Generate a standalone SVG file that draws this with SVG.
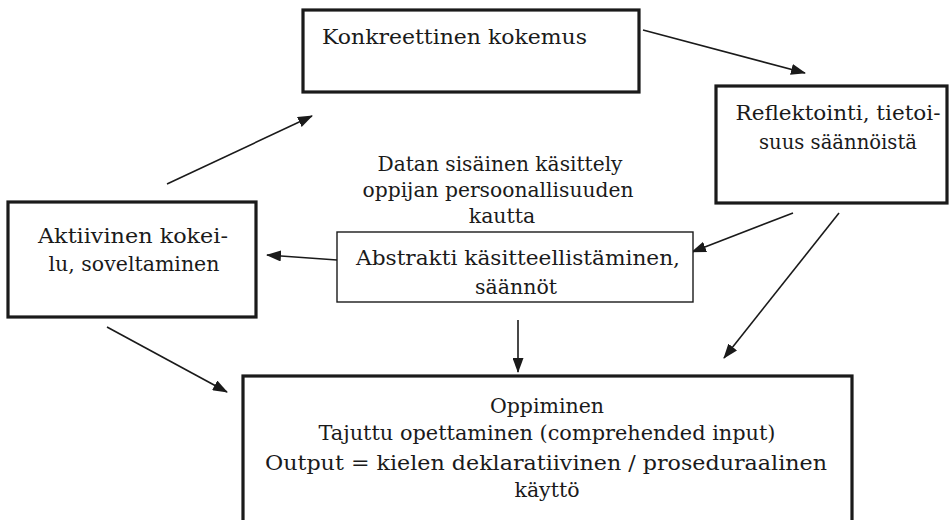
<svg xmlns="http://www.w3.org/2000/svg" width="949" height="520" viewBox="0 0 949 520">
<style>
  .box { fill: #ffffff; stroke: #1a1a1a; stroke-width: 3.2; }
  .thin { fill: #ffffff; stroke: #1a1a1a; stroke-width: 1.4; }
  .t { font-family: "DejaVu Serif", "Liberation Serif", serif; font-size: 20.5px; fill: #1a1a1a; }
  .c { text-anchor: middle; }
  .edge { stroke: #1a1a1a; stroke-width: 1.6; fill: none; marker-end: url(#ah); }
</style>
<defs>
  <marker id="ah" viewBox="0 0 15 11" markerWidth="15" markerHeight="11" refX="14" refY="5.5" orient="auto" markerUnits="userSpaceOnUse">
    <path d="M0,0 L15,5.5 L0,11 z" fill="#1a1a1a"/>
  </marker>
</defs>
<rect width="949" height="520" fill="#ffffff"/>

<g id="connectors">
  <line class="edge" x1="643" y1="30" x2="805" y2="73"/>
  <line class="edge" x1="167" y1="184" x2="312" y2="116"/>
  <line class="edge" x1="337" y1="260" x2="267" y2="255"/>
  <line class="edge" x1="793" y1="213" x2="692" y2="252"/>
  <line class="edge" x1="839" y1="213" x2="724" y2="358"/>
  <line class="edge" x1="518" y1="320" x2="518" y2="372"/>
  <line class="edge" x1="107" y1="327" x2="227" y2="392"/>
</g>

<g id="konkreettinen">
  <rect class="box" x="303" y="10" width="336" height="82"/>
  <text class="t" x="322" y="44" textLength="265" lengthAdjust="spacingAndGlyphs">Konkreettinen kokemus</text>
</g>

<g id="reflektointi">
  <rect class="box" x="716" y="86" width="231" height="117"/>
  <text class="t c" x="838" y="120" textLength="205" lengthAdjust="spacingAndGlyphs">Reflektointi, tietoi-</text>
  <text class="t c" x="838" y="149" textLength="158" lengthAdjust="spacingAndGlyphs">suus säännöistä</text>
</g>

<g id="aktiivinen">
  <rect class="box" x="8" y="202" width="248" height="115"/>
  <text class="t c" x="133" y="243" textLength="190" lengthAdjust="spacingAndGlyphs">Aktiivinen kokei-</text>
  <text class="t c" x="134" y="271">lu, soveltaminen</text>
</g>

<g id="datan">
  <text class="t c" x="500" y="171" textLength="245" lengthAdjust="spacingAndGlyphs">Datan sisäinen käsittely</text>
  <text class="t c" x="498" y="197" textLength="271" lengthAdjust="spacingAndGlyphs">oppijan persoonallisuuden</text>
  <text class="t c" x="502" y="223">kautta</text>
</g>

<g id="abstrakti">
  <rect class="thin" x="337" y="232" width="356" height="70"/>
  <text class="t c" x="518" y="265" textLength="324" lengthAdjust="spacingAndGlyphs">Abstrakti käsitteellistäminen,</text>
  <text class="t c" x="516" y="294">säännöt</text>
</g>

<g id="oppiminen">
  <rect class="box" x="243" y="376" width="609" height="160"/>
  <text class="t c" x="547" y="413">Oppiminen</text>
  <text class="t c" x="547" y="440" textLength="457" lengthAdjust="spacingAndGlyphs">Tajuttu opettaminen (comprehended input)</text>
  <text class="t c" x="546" y="470" textLength="562" lengthAdjust="spacingAndGlyphs">Output = kielen deklaratiivinen / proseduraalinen</text>
  <text class="t c" x="547" y="497">käyttö</text>
</g>
</svg>
